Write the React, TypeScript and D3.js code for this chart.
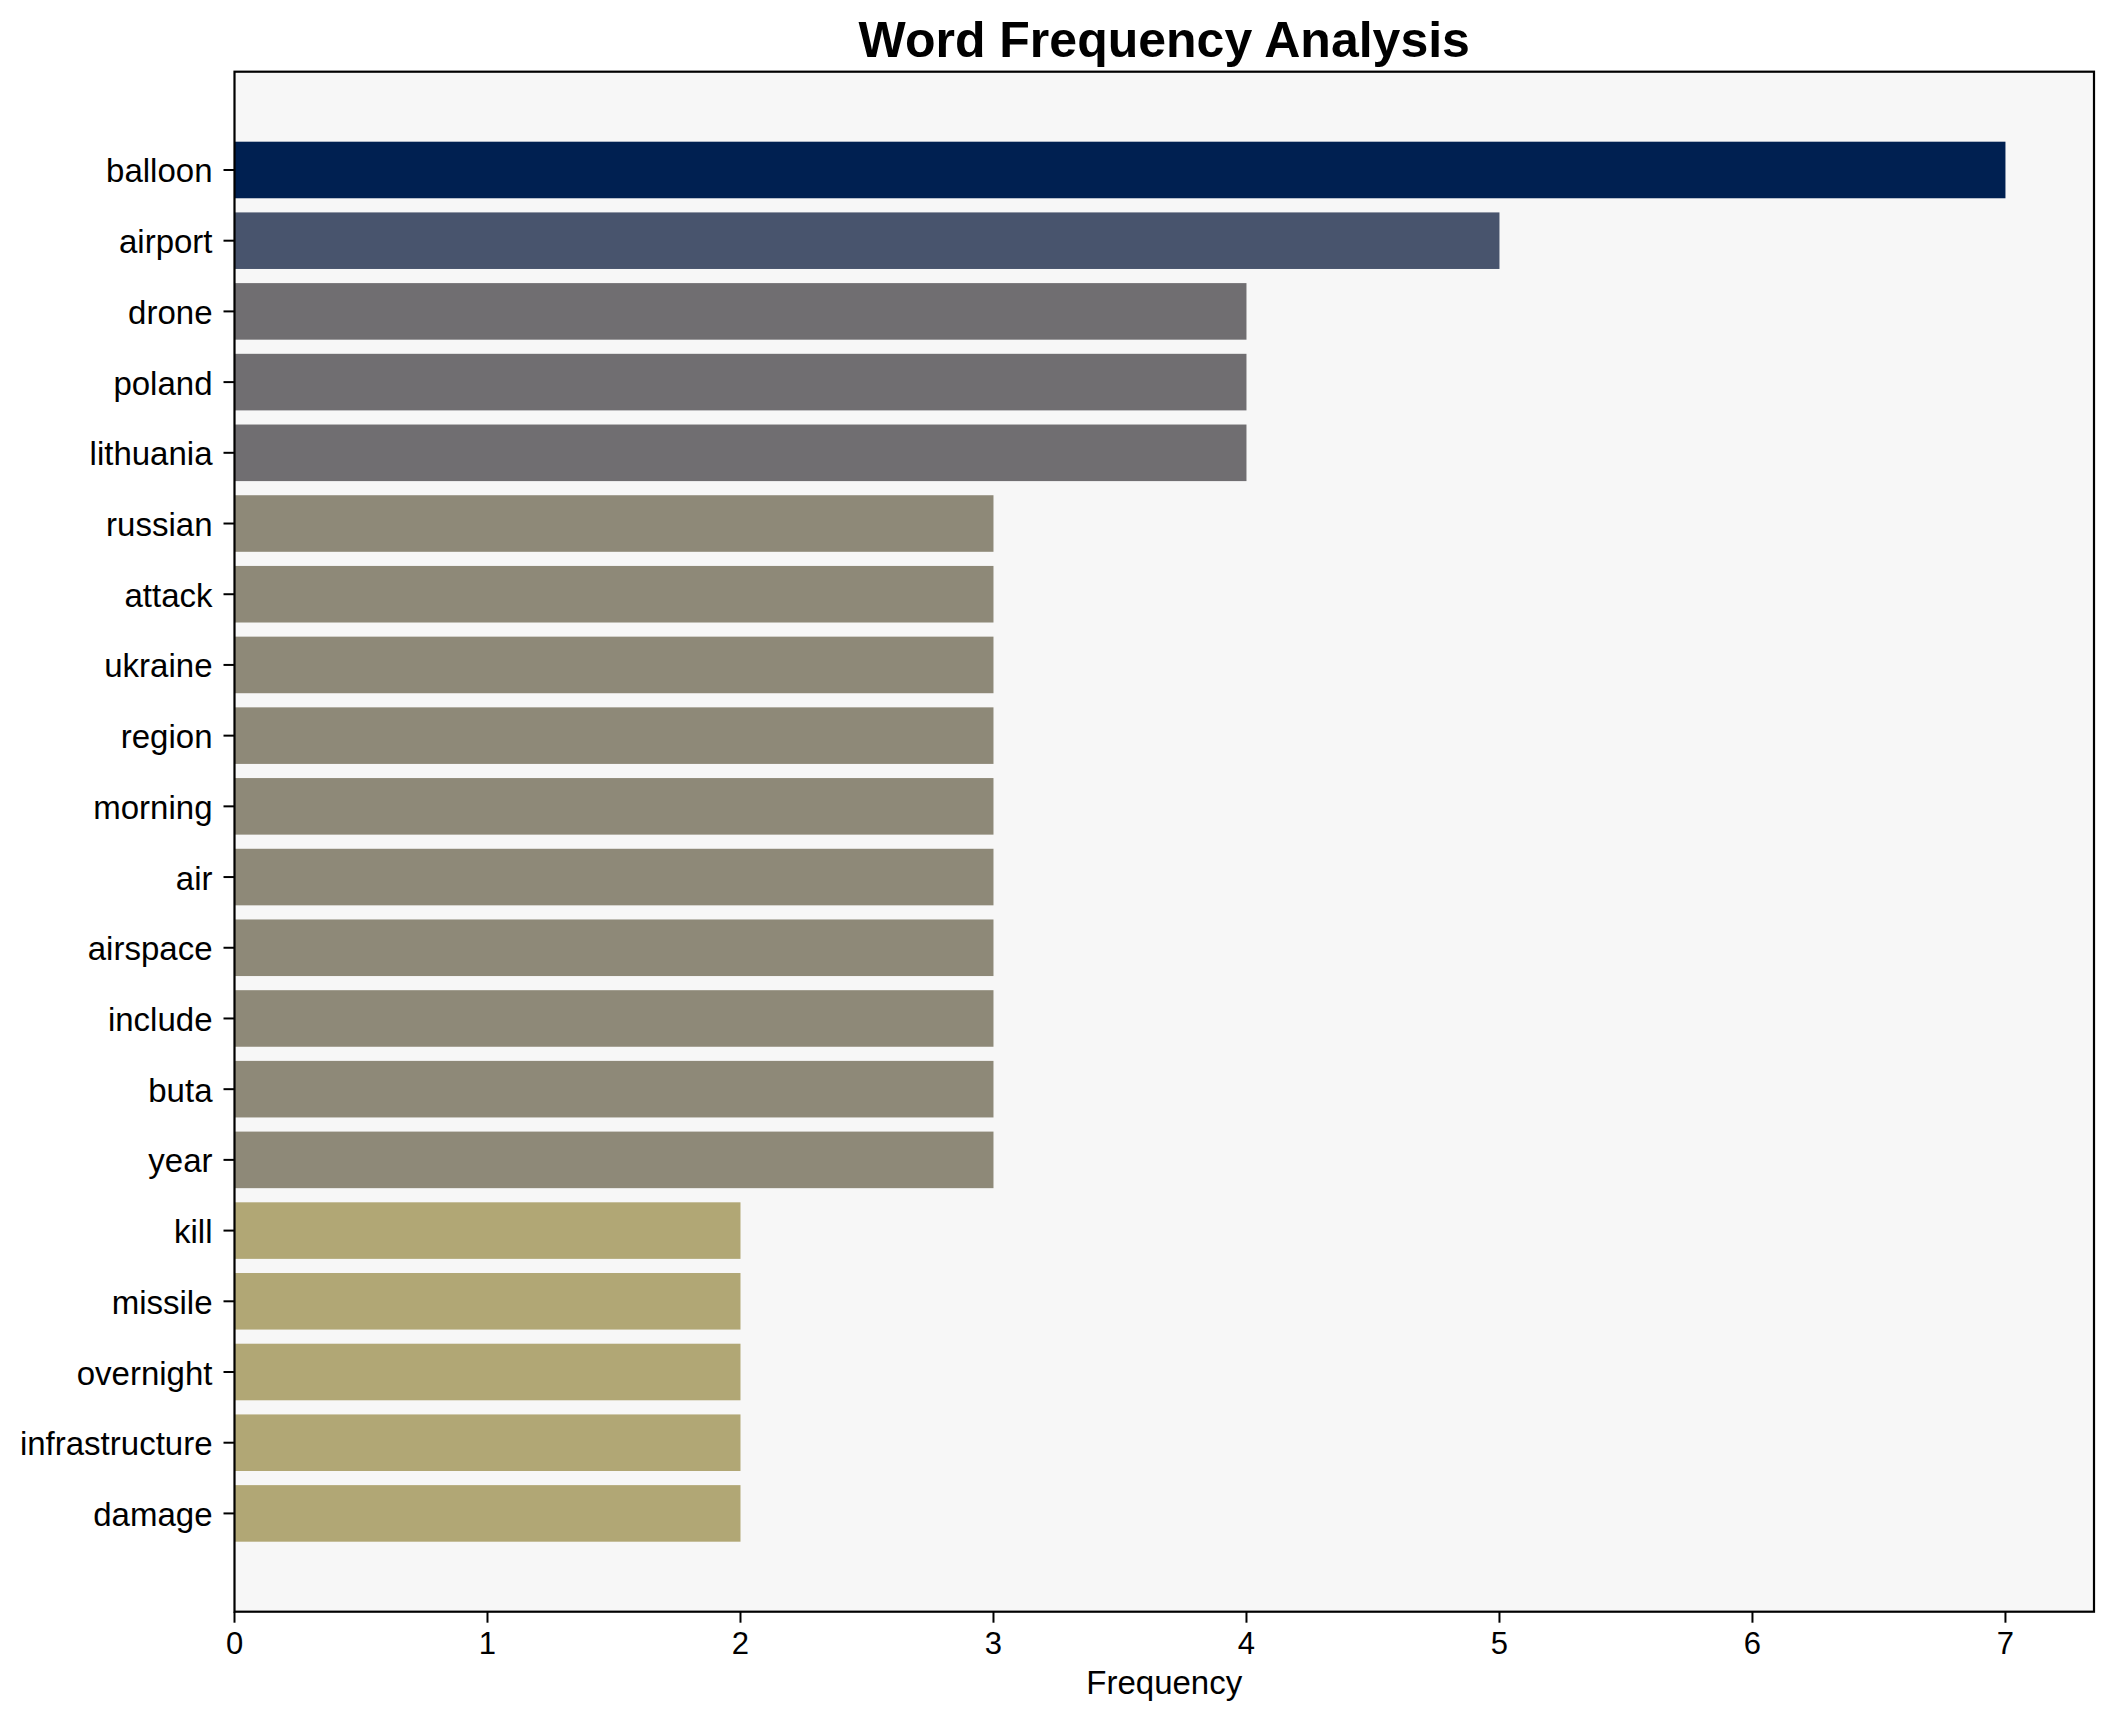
import React from "react";
import * as d3 from "d3";

const words = [
  "balloon", "airport", "drone", "poland", "lithuania",
  "russian", "attack", "ukraine", "region", "morning",
  "air", "airspace", "include", "buta", "year",
  "kill", "missile", "overnight", "infrastructure", "damage",
];
const counts = [7, 5, 4, 4, 4, 3, 3, 3, 3, 3, 3, 3, 3, 3, 3, 2, 2, 2, 2, 2];
const xTicks = [0, 1, 2, 3, 4, 5, 6, 7];
const titleText = "Word Frequency Analysis";
const xLabelText = "Frequency";

const W = 2113;
const H = 1722;
const plot = { left: 234.5, right: 2094, top: 71.7, bottom: 1611.7 };
const FONT = "'Liberation Sans', Arial, Helvetica, sans-serif";

export default function App() {
  const maxV = d3.max(counts) as number;
  const n = words.length;
  const x = d3.scaleLinear().domain([0, maxV * 1.05]).range([plot.left, plot.right]);
  const span = n - 1 + 0.8;
  const pad = span * 0.05;
  const y = d3
    .scaleLinear()
    .domain([-0.4 - pad, n - 1 + 0.4 + pad])
    .range([plot.top, plot.bottom]);
  const barH = y(0.8) - y(0);
  const color = (v: number) => d3.interpolateCividis(1 - v / maxV);
  const cx = (plot.left + plot.right) / 2;

  return (
    <svg
      width={W}
      height={H}
      style={{ position: "absolute", left: 0, top: 0, background: "#ffffff" }}
      fontFamily={FONT}
    >
      <rect x={0} y={0} width={W} height={H} fill="#ffffff" />
      <rect
        x={plot.left}
        y={plot.top}
        width={plot.right - plot.left}
        height={plot.bottom - plot.top}
        fill="#f7f7f7"
      />
      {words.map((w, i) => (
        <rect
          key={w}
          x={x(0)}
          y={y(i) - barH / 2}
          width={x(counts[i]) - x(0)}
          height={barH}
          fill={color(counts[i])}
        />
      ))}
      {/* frame */}
      <rect
        x={plot.left}
        y={plot.top}
        width={plot.right - plot.left}
        height={plot.bottom - plot.top}
        fill="none"
        stroke="#000"
        strokeWidth={2.2}
      />
      {/* y ticks */}
      {words.map((w, i) => (
        <g key={"yt" + w}>
          <line x1={plot.left - 11} x2={plot.left} y1={y(i)} y2={y(i)} stroke="#000" strokeWidth={2} />
          <text
            x={plot.left - 22}
            y={y(i) + 12.5}
            textAnchor="end"
            fontSize={33}
            fill="#000"
          >
            {w}
          </text>
        </g>
      ))}
      {/* x ticks */}
      {xTicks.map((t) => (
        <g key={"xt" + t}>
          <line x1={x(t)} x2={x(t)} y1={plot.bottom} y2={plot.bottom + 11} stroke="#000" strokeWidth={2} />
          <text x={x(t)} y={1654} textAnchor="middle" fontSize={31} fill="#000">
            {t}
          </text>
        </g>
      ))}
      <text x={cx} y={1694.3} textAnchor="middle" fontSize={33} fill="#000">
        {xLabelText}
      </text>
      <text x={cx} y={57} textAnchor="middle" fontSize={50} fontWeight="bold" fill="#000">
        {titleText}
      </text>
    </svg>
  );
}
